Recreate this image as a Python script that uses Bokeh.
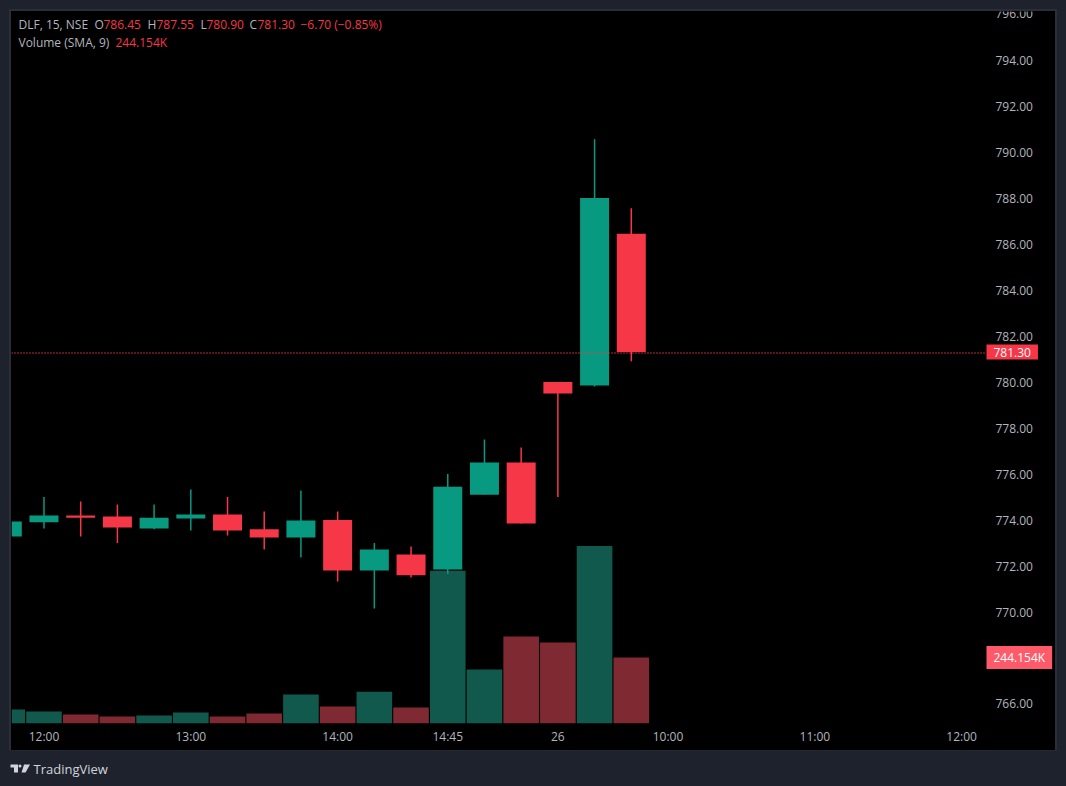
from bokeh.embed import file_html
from bokeh.layouts import column
from bokeh.resources import INLINE
from bokeh.plotting import figure
from bokeh.models import ColumnDataSource, FixedTicker, Label, Range1d

PANEL = "#1e222d"
EDGE = "#2a2e39"
UP = "#089981"
DOWN = "#f53748"
UP_VOL = "#11594c"
DOWN_VOL = "#7f2a33"
TEXT = "#b2b5be"

# bars are 15 minute candles, index 0 is 11:45
bar = list(range(18))
opens = [773.28, 773.90, 774.20, 774.15, 773.63, 774.07, 774.24, 773.60, 773.24,
         774.00, 771.80, 772.50, 771.85, 775.10, 776.50, 780.00, 779.85, 786.45]
highs = [773.93, 775.00, 774.80, 774.67, 774.67, 775.33, 775.00, 774.37, 775.28,
         774.37, 773.00, 772.85, 776.00, 777.50, 777.15, 780.00, 790.55, 787.55]
lows = [773.28, 773.63, 773.28, 773.00, 773.60, 773.54, 773.33, 772.72, 772.37,
        771.33, 770.15, 771.50, 771.65, 775.10, 773.85, 775.00, 779.80, 780.90]
closes = [773.93, 774.20, 774.10, 773.67, 774.10, 774.24, 773.54, 773.24, 773.98,
          771.80, 772.72, 771.60, 775.45, 776.50, 773.85, 779.50, 788.00, 781.30]
volumes = [52, 44, 33, 26, 30, 41, 26, 37, 107, 63, 118, 59, 566, 200, 322, 300, 658, 244.154]

price_ticks = list(range(766, 798, 2))
time_ticks = [1, 5, 9, 12, 15, 18, 22, 26]
time_labels = ["12:00", "13:00", "14:00", "14:45", "26", "10:00", "11:00", "12:00"]

last_price = 781.30
last_volume = 244.154

colors = [UP if c >= o else DOWN for o, c in zip(opens, closes)]
vol_colors = [UP_VOL if c >= o else DOWN_VOL for o, c in zip(opens, closes)]
source = ColumnDataSource(dict(bar=bar, open=opens, high=highs, low=lows, close=closes,
                               volume=volumes, color=colors, vol_color=vol_colors))

# the frame runs the whole pane, price labels sit inside it past the last bar slot
x_start, x_line_end, x_end = 0.115, 26.65, 28.557

p = figure(frame_width=1044, frame_height=712, toolbar_location=None, output_backend="svg",
           x_range=Range1d(x_start, x_end), y_range=Range1d(765.152, 796.11),
           y_axis_location="right", min_border_left=0, min_border_top=0,
           min_border_right=0, min_border_bottom=27, margin=(11, 0, 0, 11),
           background_fill_color="#000000", border_fill_color="#000000", outline_line_color=None,
           styles={"outline": "2px solid " + EDGE, "background-color": "#000000"})
p.grid.visible = False
p.extra_y_ranges = {"volume": Range1d(0, 2637.6)}

p.vbar("bar", 0.97, 0, "volume", source=source, fill_color="vol_color", line_color=None,
       y_range_name="volume")
p.segment("bar", "high", "bar", "low", source=source, color="color", line_width=1.5)
p.vbar("bar", 0.79, "open", "close", source=source, fill_color="color", line_color=None)
# nudged a hair so the dotted line lands on one pixel row
p.line([x_start, x_line_end], [last_price - 0.04] * 2, line_color=DOWN, line_width=1.5,
       line_dash="1 2")

for ax in (p.xaxis[0], p.yaxis[0]):
    ax.axis_line_color = None
    ax.major_tick_out = 0
    ax.major_tick_in = 0
    ax.minor_tick_out = 0
    ax.minor_tick_in = 0
    ax.major_label_text_color = TEXT
    ax.major_label_text_font = "Open Sans"
    ax.major_label_text_font_size = "12px"

p.xaxis[0].ticker = FixedTicker(ticks=time_ticks)
p.xaxis[0].major_label_overrides = dict(zip(time_ticks, time_labels))
p.xaxis[0].major_label_standoff = 4
p.yaxis[0].ticker = FixedTicker(ticks=price_ticks)
p.yaxis[0].major_label_overrides = {t: f"{t:.2f}" for t in price_ticks}
# the axis pushes its top label down, the chart lets it run off the pane
p.yaxis[0].major_label_overrides[price_ticks[-1]] = ""
p.yaxis[0].major_label_standoff = -60
p.add_layout(Label(x=984, y=price_ticks[-1], x_units="screen", y_offset=1,
                   text=f"{price_ticks[-1]:.2f}", text_color=TEXT, text_font="Open Sans",
                   text_font_size="12px", text_baseline="middle"))


def note(x, y, text, color=TEXT):
    # screen units of a label count from the frame's bottom left corner
    p.add_layout(Label(x=x, y=y, x_units="screen", y_units="screen", text=text, text_color=color,
                       text_font="Open Sans", text_font_size="12px", text_baseline="middle"))


note(7, 699, "DLF, 15, NSE")
note(83, 699, "O")
note(92, 699, "786.45", DOWN)
note(136, 699, "H")
note(145, 699, "787.55", DOWN)
note(189, 699, "L")
note(195, 699, "780.90", DOWN)
note(238, 699, "C")
note(246, 699, "781.30", DOWN)
note(289, 699, "\u22126.70 (\u22120.85%)", DOWN)
note(7, 681, "Volume (SMA, 9)")
note(104, 681, "244.154K", DOWN)

p.add_layout(Label(x=975, y=last_price, x_units="screen", text=f"{last_price:.2f}",
                   text_color="#ffffff", text_font="Open Sans", text_font_size="12px",
                   text_baseline="middle", background_fill_color=DOWN, padding=(7, 3)))
p.add_layout(Label(x=975, y=last_volume, x_units="screen", y_range_name="volume",
                   text=f"{last_volume:.3f}K", text_color="#ffffff", text_font="Open Sans",
                   text_font_size="12px", text_baseline="middle",
                   background_fill_color="#ff5a6a", padding=(7, 3)))

# footer strip with the logo, its y range counts page pixels from the top
footer = figure(frame_width=1066, frame_height=36, toolbar_location=None, output_backend="svg",
                x_range=Range1d(0, 1066), y_range=Range1d(786, 750), x_axis_type=None,
                y_axis_type=None, min_border=0, background_fill_color=PANEL,
                border_fill_color=PANEL, outline_line_color=None)
footer.grid.visible = False
footer.patch([10, 17.5, 17.5, 13.5, 13.5, 10], [764, 764, 772, 772, 767, 767], color="#d1d4dc",
             line_color=None)
footer.circle([19.5], [765.5], radius=1.5, color="#d1d4dc", line_color=None)
footer.patch([23.5, 29.5, 25, 21], [764, 764, 772, 772], color="#d1d4dc", line_color=None)
footer.add_layout(Label(x=33, y=18, x_units="screen", y_units="screen", text="TradingView",
                        text_color="#d1d4dc", text_font="Open Sans", text_font_size="13px",
                        text_baseline="middle"))

page = column(p, footer, width=1066, height=786, styles={"background-color": PANEL})

open("out.html", "w").write(file_html(page, INLINE))
